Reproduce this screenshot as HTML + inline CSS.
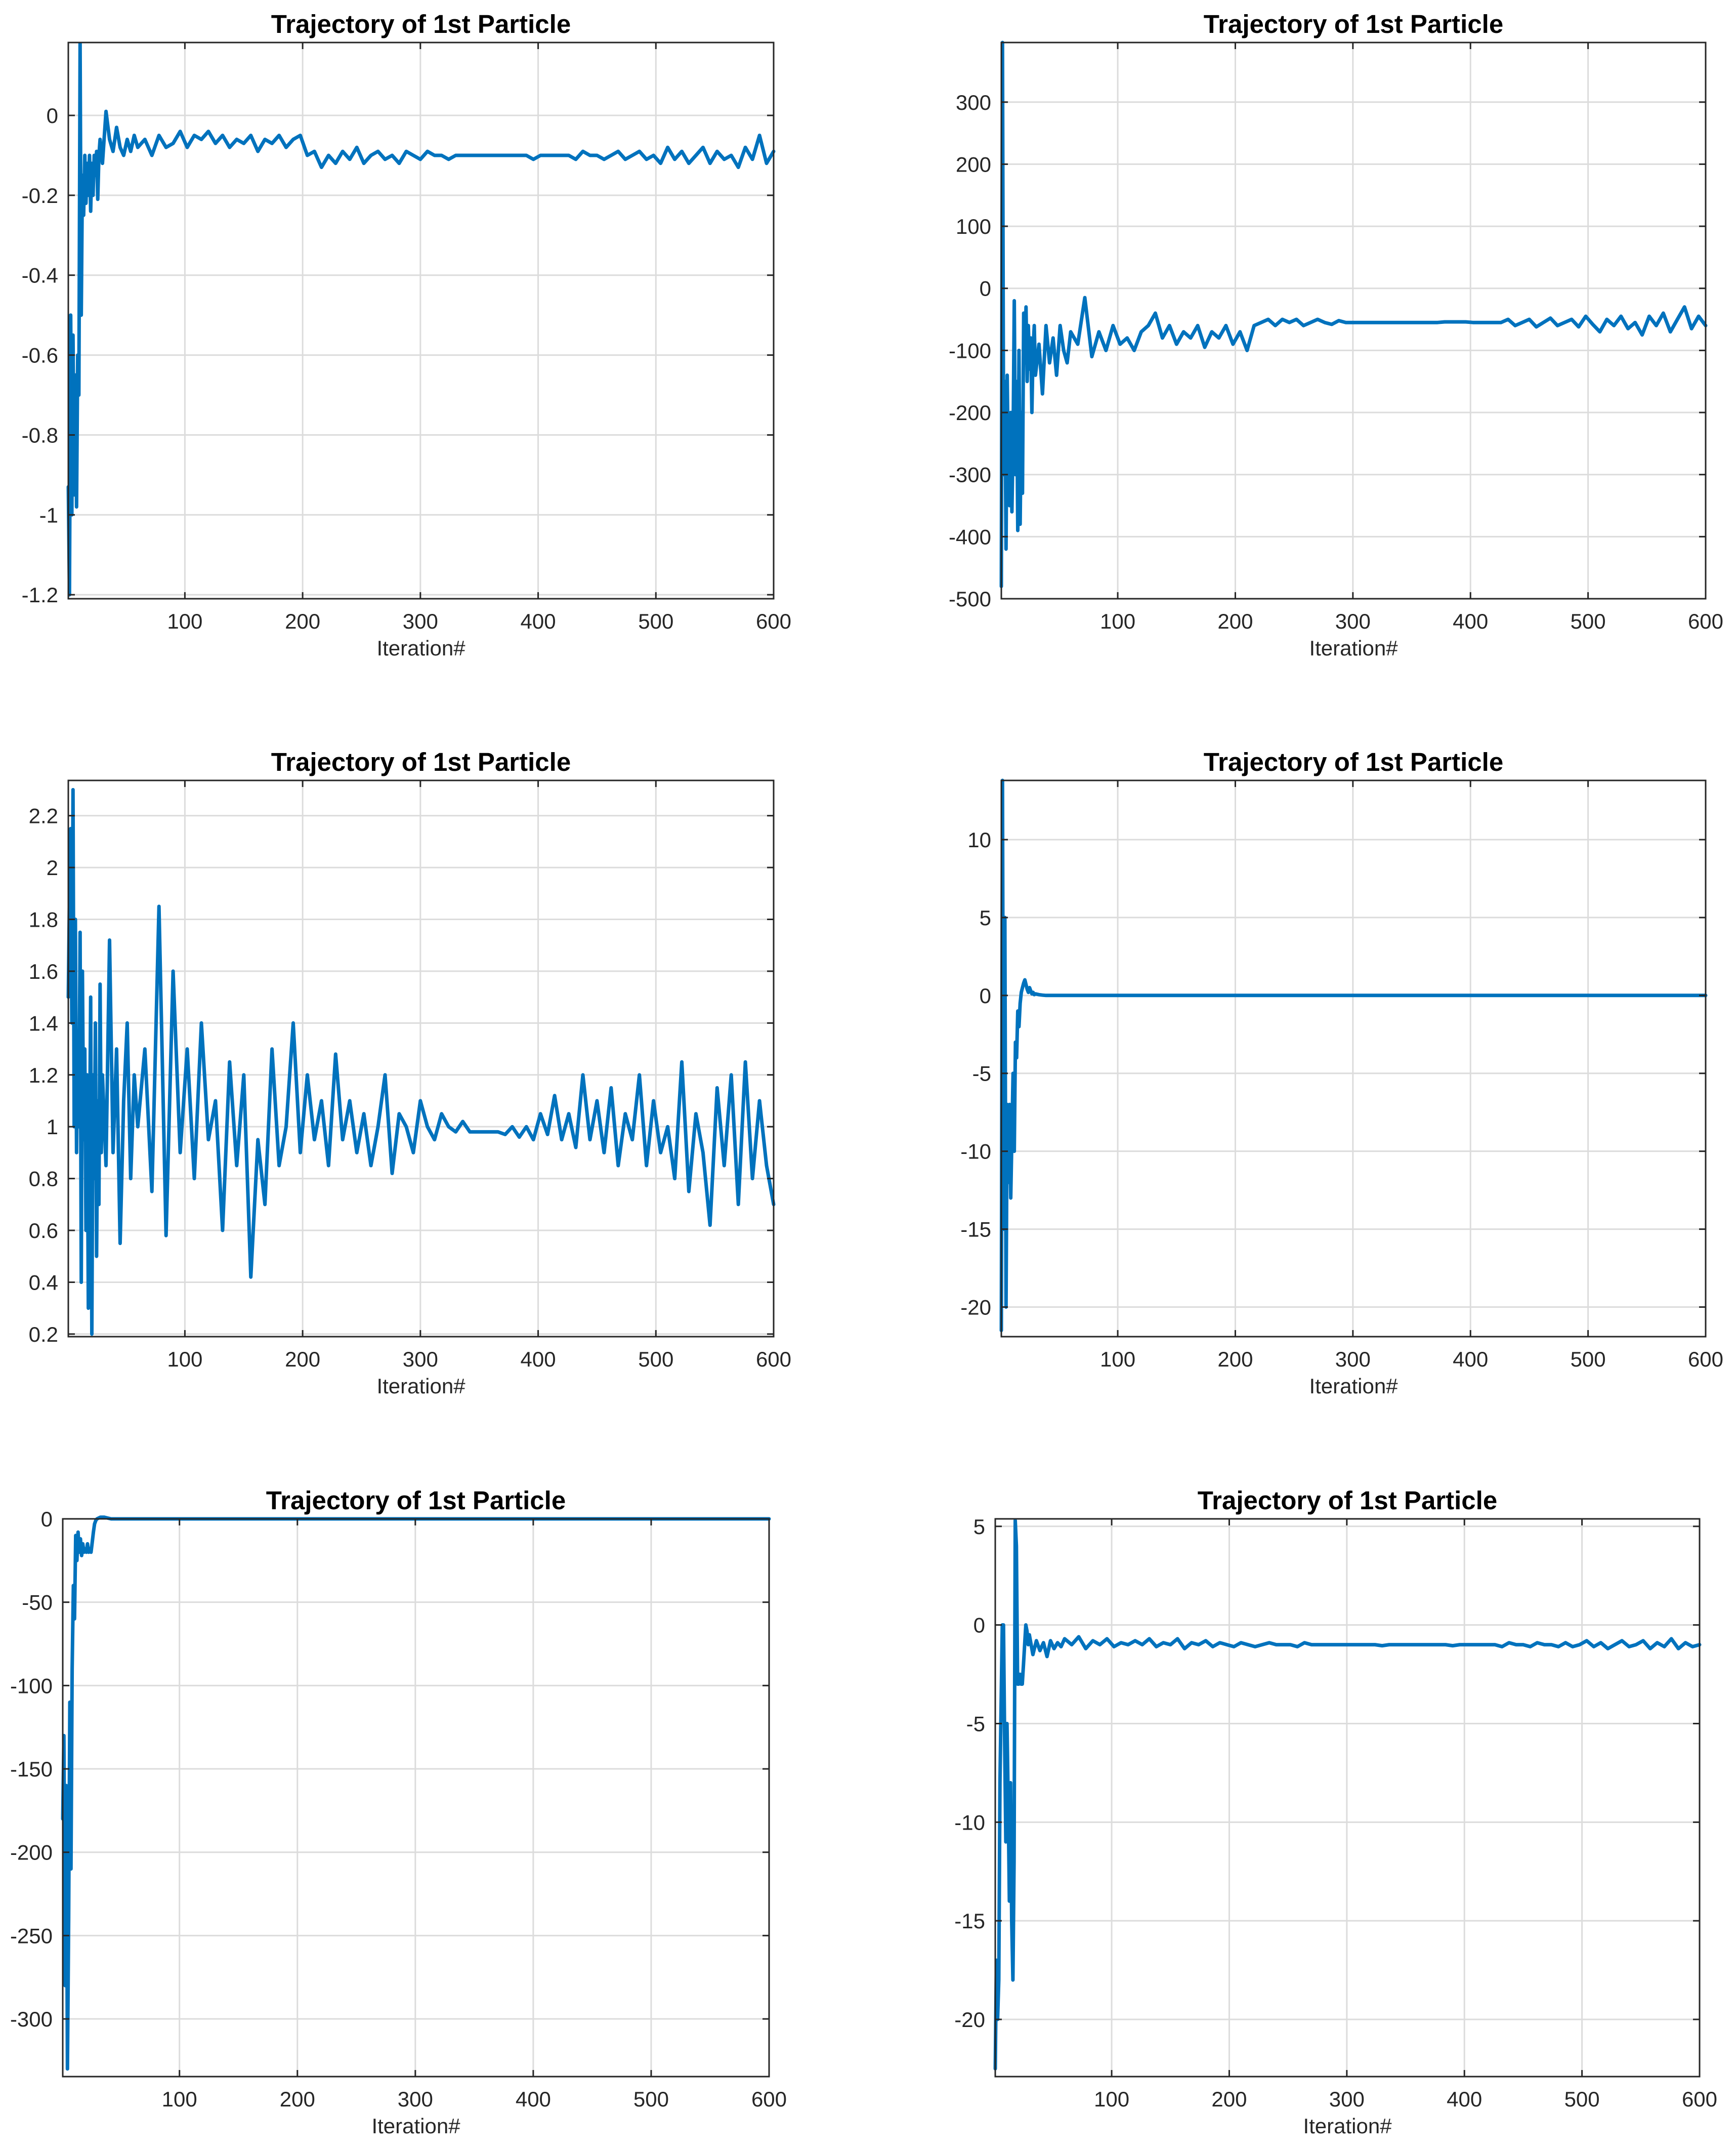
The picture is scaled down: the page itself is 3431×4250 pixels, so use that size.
<!DOCTYPE html>
<html><head><meta charset="utf-8"><style>
html,body{margin:0;padding:0;background:#fff;}
svg{display:block;}
text{font-family:"Liberation Sans",Arial,sans-serif;fill:#262626;}
</style></head>
<body>
<svg id="fig" width="3431" height="4250" viewBox="0 0 3431 4250" xmlns="http://www.w3.org/2000/svg">
<rect x="0" y="0" width="3431" height="4250" fill="#fff"/>
</svg>
<script>
const iterations = [
1,2,3,4,5,6,7,8,9,10,
11,12,13,14,15,16,17,18,19,20,
21,22,23,24,25,26,27,28,29,30,
33,36,39,42,45,48,51,54,57,60,
66,72,78,84,90,96,102,108,114,120,
126,132,138,144,150,156,162,168,174,180,
186,192,198,204,210,216,222,228,234,240,
246,252,258,264,270,276,282,288,294,300,
306,312,318,324,330,336,342,348,354,360,
366,372,378,384,390,396,402,408,414,420,
426,432,438,444,450,456,462,468,474,480,
486,492,498,504,510,516,522,528,534,540,
546,552,558,564,570,576,582,588,594,600];
const xTicks = [100,200,300,400,500,600];

const p1Values = [
-0.93,-1.2,-0.5,-1.0,-0.55,-0.95,-0.65,-0.98,-0.6,-0.7,
0.18,-0.5,-0.15,-0.25,-0.1,-0.22,-0.12,-0.2,-0.1,-0.24,
-0.12,-0.2,-0.1,-0.15,-0.09,-0.21,-0.1,-0.06,-0.09,-0.12,
0.01,-0.06,-0.09,-0.03,-0.08,-0.1,-0.06,-0.09,-0.05,-0.08,
-0.06,-0.1,-0.05,-0.08,-0.07,-0.04,-0.08,-0.05,-0.06,-0.04,
-0.07,-0.05,-0.08,-0.06,-0.07,-0.05,-0.09,-0.06,-0.07,-0.05,
-0.08,-0.06,-0.05,-0.1,-0.09,-0.13,-0.1,-0.12,-0.09,-0.11,
-0.08,-0.12,-0.1,-0.09,-0.11,-0.1,-0.12,-0.09,-0.1,-0.11,
-0.09,-0.1,-0.1,-0.11,-0.1,-0.1,-0.1,-0.1,-0.1,-0.1,
-0.1,-0.1,-0.1,-0.1,-0.1,-0.11,-0.1,-0.1,-0.1,-0.1,
-0.1,-0.11,-0.09,-0.1,-0.1,-0.11,-0.1,-0.09,-0.11,-0.1,
-0.09,-0.11,-0.1,-0.12,-0.08,-0.11,-0.09,-0.12,-0.1,-0.08,
-0.12,-0.09,-0.11,-0.1,-0.13,-0.08,-0.11,-0.05,-0.12,-0.09];
const p1Ticks = [0,-0.2,-0.4,-0.6,-0.8,-1,-1.2];

const p2Values = [
-480,396,-300,-150,-420,-140,-300,-350,-200,-360,
-250,-20,-300,-150,-390,-100,-380,-200,-330,-40,
-120,-30,-150,-60,-130,-80,-200,-100,-60,-140,
-90,-170,-60,-120,-80,-140,-60,-100,-120,-70,
-90,-15,-110,-70,-100,-60,-90,-80,-100,-70,
-60,-40,-80,-60,-90,-70,-80,-60,-95,-70,
-80,-60,-90,-70,-100,-60,-55,-50,-60,-50,
-55,-50,-60,-55,-50,-55,-58,-52,-55,-55,
-55,-55,-55,-55,-55,-55,-55,-55,-55,-55,
-55,-55,-54,-54,-54,-54,-55,-55,-55,-55,
-55,-50,-60,-55,-50,-62,-55,-48,-60,-55,
-50,-62,-45,-58,-70,-50,-60,-45,-65,-55,
-75,-45,-60,-40,-70,-50,-30,-65,-45,-60];
const p2Ticks = [300,200,100,0,-100,-200,-300,-400,-500];

const p3Values = [
1.5,1.9,2.15,1.4,2.3,1.0,1.8,0.9,1.3,1.0,
1.75,0.4,1.6,0.95,1.3,0.6,1.2,0.3,0.9,1.5,
0.2,1.2,0.8,1.4,0.5,1.1,0.7,1.55,0.9,1.2,
0.85,1.72,0.9,1.3,0.55,1.1,1.4,0.8,1.2,1.0,
1.3,0.75,1.85,0.58,1.6,0.9,1.3,0.8,1.4,0.95,
1.1,0.6,1.25,0.85,1.2,0.42,0.95,0.7,1.3,0.85,
1.0,1.4,0.9,1.2,0.95,1.1,0.85,1.28,0.95,1.1,
0.9,1.05,0.85,1.0,1.2,0.82,1.05,1.0,0.9,1.1,
1.0,0.95,1.05,1.0,0.98,1.02,0.98,0.98,0.98,0.98,
0.98,0.97,1.0,0.96,1.0,0.95,1.05,0.97,1.12,0.95,
1.05,0.92,1.2,0.95,1.1,0.9,1.15,0.85,1.05,0.95,
1.2,0.85,1.1,0.9,1.0,0.8,1.25,0.75,1.05,0.9,
0.62,1.15,0.85,1.2,0.7,1.25,0.8,1.1,0.85,0.7];
const p3Ticks = [2.2,2,1.8,1.6,1.4,1.2,1,0.8,0.6,0.4,0.2];

const p4Values = [
-21.5,13.8,-15,5,-20,-7,-12,-7,-13,-9,
-5,-10,-3,-4,-1,-2,-0.5,0.2,0.5,0.8,
1.0,0.7,0.4,0.2,0.5,0.3,0.1,0.2,0.05,0.1,
0.05,0.02,0,0,0,0,0,0,0,0,
0,0,0,0,0,0,0,0,0,0,
0,0,0,0,0,0,0,0,0,0,
0,0,0,0,0,0,0,0,0,0,
0,0,0,0,0,0,0,0,0,0,
0,0,0,0,0,0,0,0,0,0,
0,0,0,0,0,0,0,0,0,0,
0,0,0,0,0,0,0,0,0,0,
0,0,0,0,0,0,0,0,0,0,
0,0,0,0,0,0,0,0,0,0];
const p4Ticks = [10,5,0,-5,-10,-15,-20];

const p5Values = [
-180,-130,-280,-160,-330,-240,-110,-210,-90,-40,
-60,-10,-25,-8,-20,-12,-22,-15,-20,-18,
-20,-15,-20,-18,-20,-14,-8,-3,-1,0,
1,1,0.5,0,0,0,0,0,0,0,
0,0,0,0,0,0,0,0,0,0,
0,0,0,0,0,0,0,0,0,0,
0,0,0,0,0,0,0,0,0,0,
0,0,0,0,0,0,0,0,0,0,
0,0,0,0,0,0,0,0,0,0,
0,0,0,0,0,0,0,0,0,0,
0,0,0,0,0,0,0,0,0,0,
0,0,0,0,0,0,0,0,0,0,
0,0,0,0,0,0,0,0,0,0];
const p5Ticks = [0,-50,-100,-150,-200,-250,-300];

const p6Values = [
-22.5,-17,-20,-18,-8,-4,0,0,-6,-11,
-5,-9,-14,-8,-15,-18,-12,5.3,4,-3,
-3,-2.5,-3,-3,-2,-1,0,-0.3,-1,-0.5,
-1.5,-0.8,-1.3,-0.9,-1.6,-0.8,-1.2,-0.9,-1.1,-0.7,
-1.0,-0.6,-1.2,-0.8,-1.0,-0.7,-1.1,-0.9,-1.0,-0.8,
-1.0,-0.7,-1.1,-0.9,-1.0,-0.7,-1.2,-0.9,-1.0,-0.8,
-1.1,-0.9,-1.0,-1.1,-0.9,-1.0,-1.1,-1.0,-0.9,-1.0,
-1.0,-1.0,-1.1,-0.9,-1.0,-1.0,-1.0,-1.0,-1.0,-1.0,
-1.0,-1.0,-1.0,-1.0,-1.05,-1.0,-1.0,-1.0,-1.0,-1.0,
-1.0,-1.0,-1.0,-1.0,-1.05,-1.0,-1.0,-1.0,-1.0,-1.0,
-1.0,-1.1,-0.9,-1.0,-1.0,-1.1,-0.9,-1.0,-1.0,-1.1,
-0.9,-1.1,-1.0,-0.8,-1.1,-0.9,-1.2,-1.0,-0.8,-1.1,
-1.0,-0.8,-1.2,-0.9,-1.1,-0.7,-1.2,-0.9,-1.1,-1.0];
const p6Ticks = [5,0,-5,-10,-15,-20];

const NS = "http://www.w3.org/2000/svg";
const fig = document.getElementById('fig');
function mk(tag, attrs, parent) {
  const e = document.createElementNS(NS, tag);
  for (const k in attrs) e.setAttribute(k, attrs[k]);
  parent.appendChild(e);
  return e;
}
function drawPanel(id, box, yMin, yMax, values, yTicks) {
  const g = mk('g', {}, fig);
  
  
  const xMin = 1, xMax = 600;
  const sx = v => box.l + (v - xMin) / (xMax - xMin) * (box.r - box.l);
  const sy = v => box.b - (v - yMin) / (yMax - yMin) * (box.b - box.t);
  // grid
  xTicks.forEach(t => {
    const gl = mk('line', {x1: sx(t), x2: sx(t), y1: box.t, y2: box.b, stroke: '#dcdcdc', 'stroke-width': 3}, g);
    
    
  });
  yTicks.forEach(t => {
    const gl = mk('line', {x1: box.l, x2: box.r, y1: sy(t), y2: sy(t), stroke: '#dcdcdc', 'stroke-width': 3}, g);
    
    
  });
  // series
  let d = '';
  const n = Math.min(iterations.length, values.length);
  for (let i = 0; i < n; i++) {
    d += (i ? 'L' : 'M') + sx(iterations[i]).toFixed(1) + ',' + sy(values[i]).toFixed(1);
  }
  const clipId = id + '-clip';
  const cp = mk('clipPath', {id: clipId}, g);
  mk('rect', {x: box.l - 4, y: box.t - 8, width: box.r - box.l + 8, height: box.b - box.t + 16}, cp);
  const path = mk('path', {d: d, fill: 'none', stroke: '#0072BD', 'stroke-width': 7, 'stroke-linejoin': 'round', 'stroke-linecap': 'round', 'clip-path': 'url(#' + clipId + ')'}, g);
  
  
  // box
  const frame = mk('rect', {x: box.l, y: box.t, width: box.r - box.l, height: box.b - box.t, fill: 'none', stroke: '#262626', 'stroke-width': 3}, g);
  
  
  // ticks and labels
  xTicks.forEach(t => {
    mk('line', {x1: sx(t), x2: sx(t), y1: box.b, y2: box.b - 13, stroke: '#262626', 'stroke-width': 3}, g);
    mk('line', {x1: sx(t), x2: sx(t), y1: box.t, y2: box.t + 13, stroke: '#262626', 'stroke-width': 3}, g);
    const tx = mk('text', {x: sx(t), y: box.b + 59, 'font-size': 42, 'text-anchor': 'middle'}, g);
    tx.textContent = String(t);
    
    
  });
  yTicks.forEach(t => {
    mk('line', {x1: box.l, x2: box.l + 13, y1: sy(t), y2: sy(t), stroke: '#262626', 'stroke-width': 3}, g);
    mk('line', {x1: box.r, x2: box.r - 13, y1: sy(t), y2: sy(t), stroke: '#262626', 'stroke-width': 3}, g);
    const ty = mk('text', {x: box.l - 20, y: sy(t) + 15, 'font-size': 42, 'text-anchor': 'end'}, g);
    ty.textContent = String(t);
    
    
  });
  const xl = mk('text', {x: (box.l + box.r) / 2, y: box.b + 112, 'font-size': 42, 'text-anchor': 'middle'}, g);
  xl.textContent = 'Iteration#';
  
  
  const ti = mk('text', {x: (box.l + box.r) / 2, y: box.t - 19, 'font-size': 51, 'font-weight': 'bold', 'text-anchor': 'middle', style: 'fill:#000'}, g);
  ti.textContent = 'Trajectory of 1st Particle';
  
  
}
drawPanel('panel-1', {l:135, r:1529, t:84, b:1183}, -1.21, 0.1825, p1Values, p1Ticks);
drawPanel('panel-2', {l:1979, r:3371, t:84, b:1183}, -500, 396, p2Values, p2Ticks);
drawPanel('panel-3', {l:135, r:1529, t:1542, b:2641}, 0.19, 2.336, p3Values, p3Ticks);
drawPanel('panel-4', {l:1979, r:3371, t:1542, b:2641}, -21.9, 13.8, p4Values, p4Ticks);
drawPanel('panel-5', {l:124, r:1520, t:3001, b:4103}, -334.6, 0, p5Values, p5Ticks);
drawPanel('panel-6', {l:1967, r:3359, t:3001, b:4103}, -22.9, 5.38, p6Values, p6Ticks);
</script>
</body></html>
